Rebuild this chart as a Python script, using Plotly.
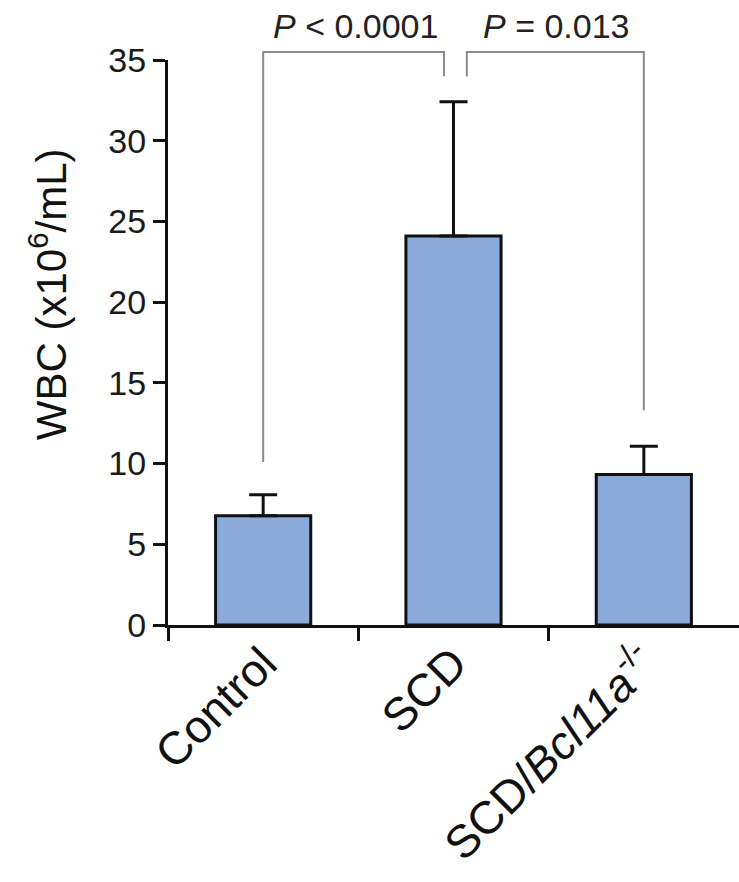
import plotly.graph_objects as go

# ---- data ----
categories = ["Control", "SCD", "SCD/<i>Bcl11a</i><sup>-/-</sup>"]
wbc_mean = [6.77, 24.1, 9.33]
wbc_sem = [1.3, 8.32, 1.74]
y_ticks = [0, 5, 10, 15, 20, 25, 30, 35]
p_labels = ["<i>P</i> &lt; 0.0001", "<i>P</i> = 0.013"]

# bracket geometry in data units (category index / WBC value)
bracket1_x = [0, 0, 0.95, 0.95]
bracket1_y = [10.1, 35.5, 35.5, 34.0]
bracket2_x = [1.07, 1.07, 2, 2]
bracket2_y = [34.0, 35.5, 35.5, 13.3]
p_label_x = [0.486, 1.54]
p_label_y = 37.1

FONT = "Arial, Liberation Sans, Helvetica, sans-serif"
xpos = list(range(len(categories)))

W, H = 739, 882
M_T, M_B = 10, 257
plot_h = H - M_T - M_B
y_dom_top = 565 / plot_h          # visible axis spans 0..35
y2_top = 35 / y_dom_top           # same scale, taller area for brackets

fig = go.Figure()
fig.add_trace(go.Bar(
    x=xpos, y=wbc_mean, width=0.5, xaxis="x", yaxis="y",
    marker=dict(color="#8AAADB", line=dict(color="#111111", width=3)),
    error_y=dict(type="data", symmetric=False, array=wbc_sem,
                 arrayminus=[0] * len(wbc_sem), color="#111111",
                 thickness=3, width=14),
    showlegend=False, hoverinfo="skip",
))
for bx, by in [(bracket1_x, bracket1_y), (bracket2_x, bracket2_y)]:
    fig.add_trace(go.Scatter(
        x=bx, y=by, mode="lines", xaxis="x", yaxis="y2",
        line=dict(color="#8C8C8C", width=2),
        showlegend=False, hoverinfo="skip",
    ))

for txt, px in zip(p_labels, p_label_x):
    fig.add_annotation(x=px, y=p_label_y, xref="x", yref="y2", text=txt,
                       showarrow=False, xanchor="center", yanchor="middle",
                       font=dict(family=FONT, size=34, color="#222222"))

fig.add_annotation(x=-0.21, y=20.5, xref="paper", yref="y",
                   text="WBC (x10<sup>6</sup>/mL)", textangle=-90,
                   showarrow=False, xanchor="center", yanchor="middle",
                   font=dict(family=FONT, size=42, color="#111111"))

fig.update_layout(
    width=W, height=H,
    margin=dict(l=168, r=0, t=M_T, b=M_B, autoexpand=False),
    plot_bgcolor="rgba(0,0,0,0)", paper_bgcolor="white",
    xaxis=dict(
        range=[-0.5, 2.5], tickmode="array", tickvals=xpos, ticktext=categories,
        tickangle=-45, ticks="", showline=True, linecolor="#111111", linewidth=3,
        tickfont=dict(family=FONT, size=46, color="#111111"),
        showgrid=False, zeroline=False, fixedrange=True, anchor="y",
        ticklabelstandoff=-10, automargin=False,
        minor=dict(tickmode="array", tickvals=[-0.5, 0.5, 1.5], ticks="outside",
                   ticklen=13, tickwidth=3, tickcolor="#111111", showgrid=False),
    ),
    yaxis=dict(
        domain=[0, y_dom_top], anchor="x", automargin=False,
        range=[0, 35], tickmode="array", tickvals=y_ticks,
        ticks="outside", ticklen=12, tickwidth=3, tickcolor="#111111",
        showline=True, linecolor="#111111", linewidth=3,
        tickfont=dict(family=FONT, size=34, color="#1a1a1a"),
        showgrid=False, zeroline=False, fixedrange=True,
    ),
    yaxis2=dict(
        domain=[0, 1], anchor="x", range=[0, y2_top], visible=False,
        automargin=False,
        showgrid=False, zeroline=False, fixedrange=True,
    ),
)

fig.write_html("out.html")
